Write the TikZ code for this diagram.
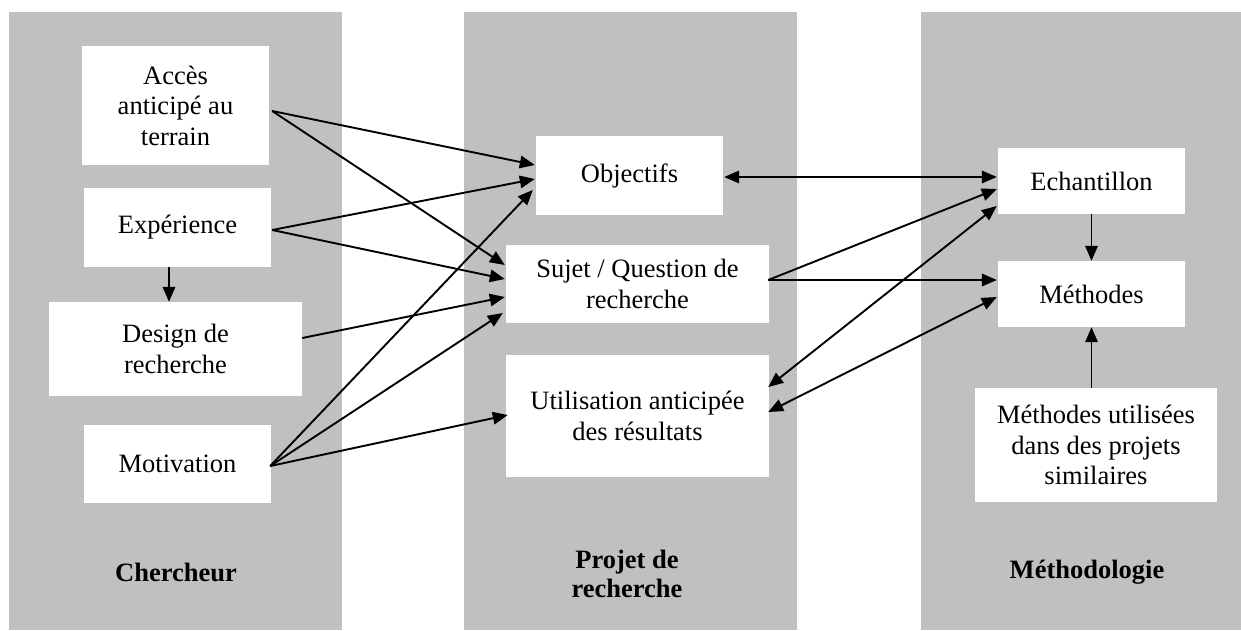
\documentclass[tikz,border=0pt]{standalone}
\usepackage{fontspec}
\setmainfont{Liberation Serif}
\usetikzlibrary{arrows.meta,calc}
\definecolor{panelgray}{RGB}{192,192,192}
\begin{document}
\begin{tikzpicture}[x=1pt,y=-1pt,
  box/.style={fill=white, inner sep=0pt, align=center, font=\fontsize{26.5}{30.5}\selectfont},
  lbl/.style={inner sep=0pt, align=center, font=\fontsize{26.5}{29}\selectfont\bfseries},
  arr/.style={-{Triangle[length=15pt,width=12.5pt]}, line width=1.9pt},
  darr/.style={{Triangle[length=15pt,width=12.5pt]}-{Triangle[length=15pt,width=12.5pt]}, line width=1.9pt}]
\useasboundingbox (0,0) rectangle (1241,630);
\fill[panelgray] (9,12) rectangle (342,630);
\fill[panelgray] (464,12) rectangle (797,630);
\fill[panelgray] (921,12) rectangle (1241,630);

% left column
\node[box, minimum width=187pt, minimum height=119pt] (acces) at (175.5,105.5) {Accès\\anticipé au\\terrain};
\node[box, minimum width=187pt, minimum height=79pt] (exp) at (177.5,227.5) {Expérience};
\node[box, minimum width=253pt, minimum height=94pt] (design) at (175.5,349) {Design de\\recherche};
\node[box, minimum width=187pt, minimum height=78pt] (motiv) at (177.5,464) {Motivation};
\node[lbl] (l1) at (176,572) {Chercheur};

% middle column
\node[box, minimum width=187pt, minimum height=79pt] (obj) at (629.5,175.5) {Objectifs};
\node[box, minimum width=263pt, minimum height=78pt] (sujet) at (637.5,284) {Sujet / Question de\\recherche};
\node[box, minimum width=263pt, minimum height=122pt] (util) at (637.5,416) {Utilisation anticipée\\des résultats};
\node[lbl] (l2) at (627,574) {Projet de\\recherche};

% right column
\node[box, minimum width=187pt, minimum height=66pt] (echant) at (1091.5,181) {Echantillon};
\node[box, minimum width=187pt, minimum height=66pt] (meth) at (1091.5,294) {Méthodes};
\node[box, minimum width=242pt, minimum height=114pt] (methu) at (1096,445) {Méthodes utilisées\\dans des projets\\similaires};
\node[lbl] (l3) at (1087,572) {Méthodologie};

% connectors from the left column
\coordinate (sa) at ($(acces.east)+(3,5.5)$);
\coordinate (se) at ($(exp.east)+(1,2.5)$);
\coordinate (sd) at ($(design.east)+(0,-11)$);
\coordinate (sm) at ($(motiv.east)+(-1,2)$);
\draw[arr] (sa) -- ($(obj.west)+(-1,-10.5)$);
\draw[arr] (sa) -- ($(sujet.west)+(-1,-19)$);
\draw[arr] (se) -- ($(obj.west)+(-1,3.5)$);
\draw[arr] (se) -- ($(sujet.west)+(-1,-5)$);
\draw[arr] (sd) -- ($(sujet.west)+(-1,13)$);
\draw[arr] (sm) -- ($(obj.west)+(-3,14.5)$);
\draw[arr] (sm) -- ($(sujet.west)+(-3,29)$);
\draw[arr] (sm) -- ($(util.west)+(2,-1)$);

% connectors between middle and right
\coordinate (ss) at ($(sujet.east)+(-1,-4)$);
\draw[darr] ($(obj.east)+(1,1.5)$) -- ($(echant.west)+(-1,-4)$);
\draw[arr] (ss) -- ($(echant.west)+(-1,8)$);
\draw[arr] (ss) -- ($(meth.west)+(-1,-14)$);
\draw[darr] ($(util.east)+(-1,-29)$) -- ($(echant.west)+(-1,25)$);
\draw[darr] ($(util.east)+(-1,-4)$) -- ($(meth.west)+(-1,3)$);

% vertical connectors
\draw[arr] (echant.south) -- (meth.north);
\draw[arr] (methu.north -| meth.south) -- (meth.south);
\coordinate (ea) at ($(exp.south)+(-8.5,0)$);
\draw[arr] (ea) -- (ea |- design.north);
\end{tikzpicture}
\end{document}
